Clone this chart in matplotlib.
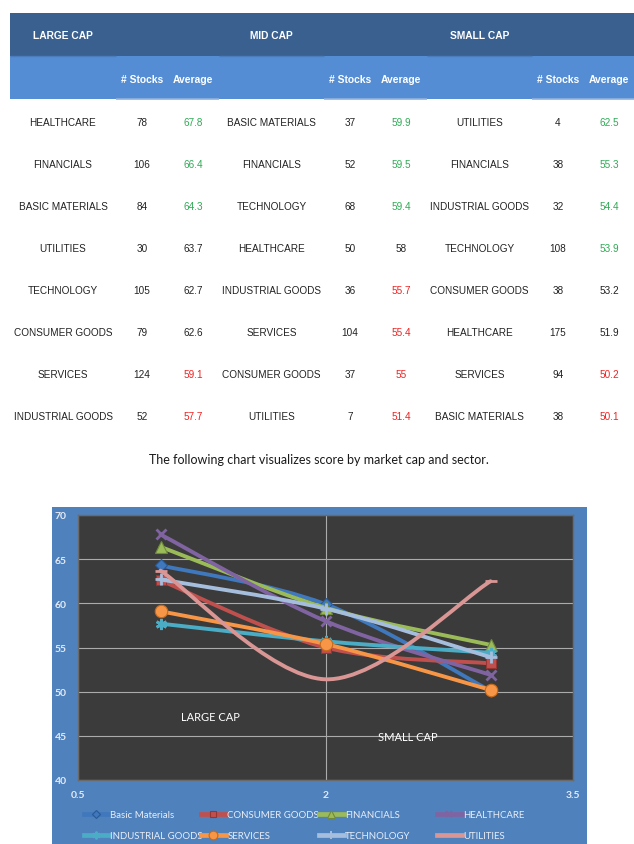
import numpy as np
import matplotlib
matplotlib.use("Agg")
import matplotlib.pyplot as plt
from matplotlib.path import Path
from matplotlib.patches import PathPatch, Rectangle
from matplotlib.lines import Line2D

# ---------------- data ----------------
large_sectors = ['HEALTHCARE', 'FINANCIALS', 'BASIC MATERIALS', 'UTILITIES',
                 'TECHNOLOGY', 'CONSUMER GOODS', 'SERVICES', 'INDUSTRIAL GOODS']
large_stocks = [78, 106, 84, 30, 105, 79, 124, 52]
large_avg = [67.8, 66.4, 64.3, 63.7, 62.7, 62.6, 59.1, 57.7]
large_cls = ['g', 'g', 'g', 'k', 'k', 'k', 'r', 'r']

mid_sectors = ['BASIC MATERIALS', 'FINANCIALS', 'TECHNOLOGY', 'HEALTHCARE',
               'INDUSTRIAL GOODS', 'SERVICES', 'CONSUMER GOODS', 'UTILITIES']
mid_stocks = [37, 52, 68, 50, 36, 104, 37, 7]
mid_avg = [59.9, 59.5, 59.4, 58, 55.7, 55.4, 55, 51.4]
mid_cls = ['g', 'g', 'g', 'k', 'r', 'r', 'r', 'r']

small_sectors = ['UTILITIES', 'FINANCIALS', 'INDUSTRIAL GOODS', 'TECHNOLOGY',
                 'CONSUMER GOODS', 'HEALTHCARE', 'SERVICES', 'BASIC MATERIALS']
small_stocks = [4, 38, 32, 108, 38, 175, 94, 38]
small_avg = [62.5, 55.3, 54.4, 53.9, 53.2, 51.9, 50.2, 50.1]
small_cls = ['g', 'g', 'g', 'g', 'k', 'k', 'r', 'r']

cap_titles = ['LARGE CAP', 'MID CAP', 'SMALL CAP']
col_titles = ['# Stocks', 'Average']
caption = 'The following chart visualizes score by market cap and sector.'

series_keys = ['BASIC MATERIALS', 'CONSUMER GOODS', 'FINANCIALS', 'HEALTHCARE',
               'INDUSTRIAL GOODS', 'SERVICES', 'TECHNOLOGY', 'UTILITIES']
series_labels = ['Basic Materials', 'CONSUMER GOODS', 'FINANCIALS', 'HEALTHCARE',
                 'INDUSTRIAL GOODS', 'SERVICES', 'TECHNOLOGY', 'UTILITIES']
cap_x = [1, 2, 3]
x_ticks = [0.5, 2, 3.5]
x_tick_labels = ['0.5', '2', '3.5']
y_ticks = [40, 45, 50, 55, 60, 65, 70]
cap_labels = ['LARGE CAP', 'SMALL CAP']
cap_label_pos = [(1.3, 47.2), (2.5, 44.9)]

# --------------- styles ---------------
W, H = 634, 845
fig = plt.figure(figsize=(W / 100, H / 100), dpi=100)
fig.patch.set_facecolor('white')

narrow = ['Liberation Sans Narrow', 'Liberation Sans', 'DejaVu Sans']
calib = ['Lato', 'DejaVu Sans']
dark_blue = '#3A6090'
light_blue = '#548DD4'
avg_colors = {'g': '#2FAA55', 'k': '#222222', 'r': '#EE2222'}
body_fs = 7.2
head_fs = 7.4

# ---------------- table (pixel axes) ----------------
tab = fig.add_axes([0, 0, 1, 1])
tab.set_xlim(0, W)
tab.set_ylim(H, 0)
tab.axis('off')

tab.add_patch(Rectangle((10, 14), W - 10, 42.5, facecolor=dark_blue, edgecolor='none'))
tab.add_patch(Rectangle((10, 56.5), W - 10, 43, facecolor=light_blue, edgecolor='none'))

sec_left = [10, 219, 427]
name_w = [106, 105, 105]
num_w = 103
groups = [(large_sectors, large_stocks, large_avg, large_cls),
          (mid_sectors, mid_stocks, mid_avg, mid_cls),
          (small_sectors, small_stocks, small_avg, small_cls)]
row_y0, row_dy = 123, 42

for g, (sectors, stocks, avgs, cls) in enumerate(groups):
    x0 = sec_left[g]
    nx = x0 + name_w[g] / 2
    numx0 = x0 + name_w[g]
    sx = numx0 + 26
    ax_ = numx0 + 77
    # subtle cell border lines
    tab.plot([x0, numx0], [57, 57], color='#4A7CBE', lw=1.0, solid_capstyle='butt')
    tab.plot([numx0, min(numx0 + num_w, W)], [100, 100], color='#8FB2E0', lw=1.2,
             solid_capstyle='butt')
    tab.text(nx, 36, cap_titles[g], color='white', fontsize=head_fs, fontweight='bold',
             family=narrow, ha='center', va='center')
    tab.text(sx, 80, col_titles[0], color='white', fontsize=head_fs, fontweight='bold',
             family=narrow, ha='center', va='center')
    tab.text(ax_, 80, col_titles[1], color='white', fontsize=head_fs, fontweight='bold',
             family=narrow, ha='center', va='center')
    for i in range(len(sectors)):
        y = row_y0 + i * row_dy
        tab.text(nx, y, sectors[i], color='#222222', fontsize=body_fs, family=narrow,
                 ha='center', va='center')
        tab.text(sx, y, str(stocks[i]), color='#222222', fontsize=body_fs, family=narrow,
                 ha='center', va='center')
        tab.text(ax_, y, f'{avgs[i]:g}', color=avg_colors[cls[i]], fontsize=body_fs,
                 family=narrow, ha='center', va='center')

tab.text(319, 460, caption, color='#1A1A1A', fontsize=9.0, family=calib,
         ha='center', va='center')

# chart background (blue chart area)
tab.add_patch(Rectangle((52, 508), 535, H - 508, facecolor='#4F81BD', edgecolor='none'))

# ---------------- chart ----------------
lookup = {}
for sectors, stocks, avgs, cls in groups:
    for s, a in zip(sectors, avgs):
        lookup.setdefault(s, []).append(a)

colors = ['#3F78BC', '#C0504D', '#9BBB59', '#8064A2', '#4BACC6', '#F79646',
          '#A6BEDD', '#D99694']
markers = ['D', 's', '^', 'x', (6, 2, 0), 'o', '+', '_']
msizes = [6, 7, 8, 7, 8, 9, 8, 8]
medges = ['#2A5A96', '#963532', '#6F8A3C', '#5B4678', '#2F8AA2', '#C56A1B',
          '#7F9CC4', '#B06F6D']

left, right, top, bottom = 78, 573, 516, 781
ax = fig.add_axes([left / W, 1 - bottom / H, (right - left) / W, (bottom - top) / H])
ax.set_facecolor('#3B3B3B')
ax.set_xlim(0.5, 3.5)
ax.set_ylim(40, 70)
for sp in ax.spines.values():
    sp.set_color('#6A6A6A')
    sp.set_linewidth(1.0)
ax.set_xticks(x_ticks)
ax.set_xticklabels(x_tick_labels)
ax.set_yticks(y_ticks)
ax.tick_params(length=0, colors='#E4EBF5', labelsize=7.5, pad=7)
ax.tick_params(axis='y', pad=8)
for lab in ax.get_xticklabels() + ax.get_yticklabels():
    lab.set_family(calib)
    lab.set_fontweight('bold')
ax.grid(True, color='#ABABAB', lw=0.8)
ax.set_axisbelow(True)


def smooth_path(xs, ys):
    pts = np.column_stack([xs, ys]).astype(float)
    n = len(pts)
    verts = [pts[0]]
    codes = [Path.MOVETO]
    for i in range(n - 1):
        p0 = pts[i - 1] if i > 0 else pts[i]
        p1 = pts[i]
        p2 = pts[i + 1]
        p3 = pts[i + 2] if i + 2 < n else pts[i + 1]
        verts += [p1 + (p2 - p0) / 6, p2 - (p3 - p1) / 6, p2]
        codes += [Path.CURVE4] * 3
    return Path(verts, codes)


handles = []
for k, key in enumerate(series_keys):
    ys = lookup[key]
    patch = PathPatch(smooth_path(cap_x, ys), facecolor='none', edgecolor=colors[k],
                      lw=2.8, capstyle='round', joinstyle='round', zorder=3 + 2 * k)
    ax.add_patch(patch)
    filled = markers[k] not in ('x', '+', '_', (6, 2, 0))
    ax.plot(cap_x, ys, linestyle='none', marker=markers[k], ms=msizes[k],
            mfc=colors[k], mec=medges[k] if filled else colors[k],
            mew=0.8 if filled else 2.0, zorder=4 + 2 * k)
    handles.append(Line2D([], [], color=colors[k], lw=3.4, marker=markers[k],
                          ms=msizes[k] * 0.7, mfc=colors[k],
                          mec=medges[k] if filled else colors[k],
                          mew=0.8 if filled else 1.4))

for lbl, (px, py) in zip(cap_labels, cap_label_pos):
    ax.text(px, py, lbl, color='white', fontsize=8, family=calib,
            ha='center', va='center', zorder=30)

# legend: 4 columns of 2 entries each
leg_x = [84, 201, 319, 437]
for c in range(4):
    hs = [handles[c], handles[c + 4]]
    ls = [series_labels[c], series_labels[c + 4]]
    leg = fig.legend(hs, ls, loc='upper left', bbox_to_anchor=(leg_x[c] / W, 1 - 811 / H),
                     frameon=False, handlelength=2.6, handletextpad=0.15,
                     labelspacing=1.25, borderpad=0, borderaxespad=0,
                     prop={'family': calib, 'size': 6.9})
    for t in leg.get_texts():
        t.set_color('#E8EEF7')

fig.savefig('out.png', dpi=100, facecolor='white')
